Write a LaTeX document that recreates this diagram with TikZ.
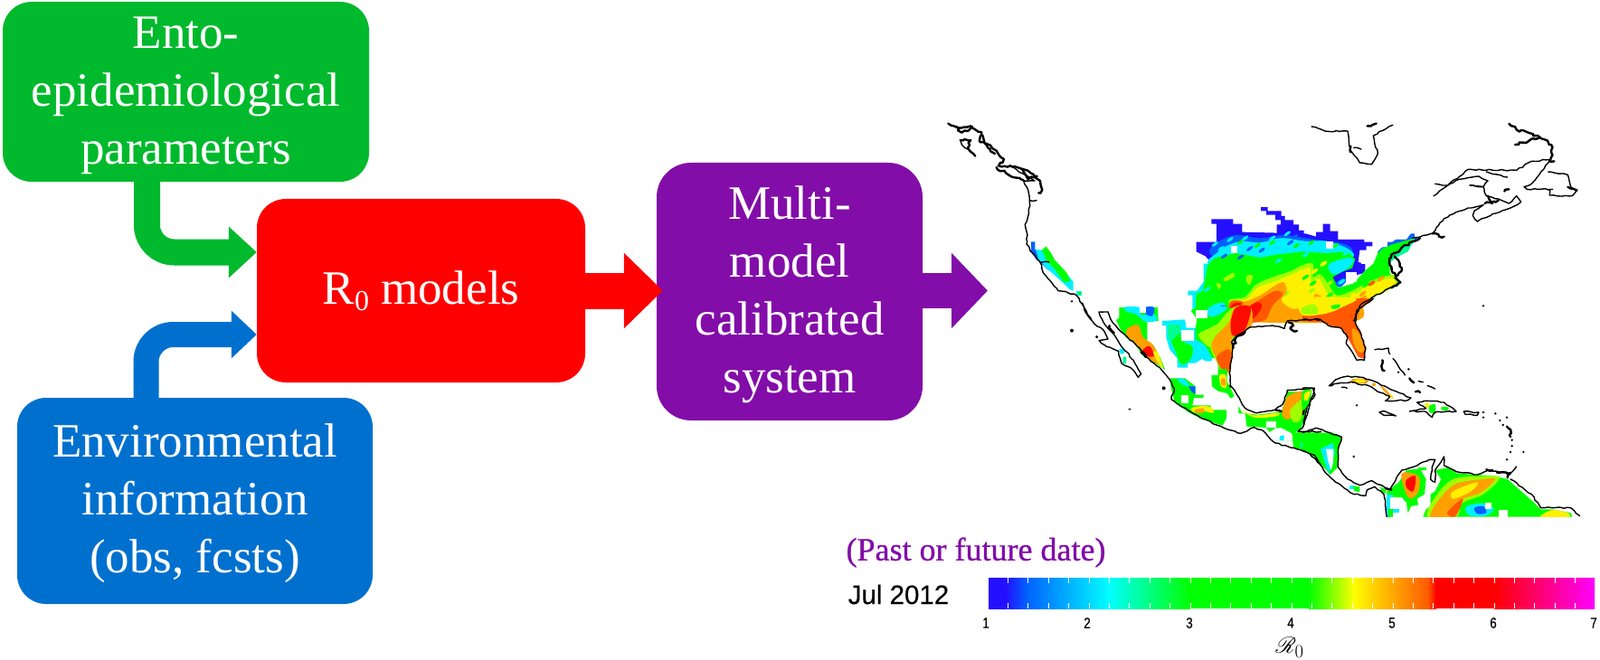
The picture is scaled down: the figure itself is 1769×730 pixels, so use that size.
\documentclass[tikz,border=0pt]{standalone}
\usepackage{fontspec}
\usepackage{mathrsfs}
\usetikzlibrary{arrows.meta,decorations.pathmorphing}
\setmainfont{Liberation Serif}
\newfontfamily\lsans[FakeBold=0.25]{Liberation Sans}
\newfontfamily\fakeb[FakeBold=0.8]{Liberation Serif}
\definecolor{cGb}{HTML}{00B92C}
\definecolor{cBb}{HTML}{0070CF}
\definecolor{cRb}{HTML}{FF0000}
\definecolor{cPb}{HTML}{820DA8}
\definecolor{mV}{HTML}{2410FF}
\definecolor{mB}{HTML}{0060FF}
\definecolor{mC}{HTML}{00F0FF}
\definecolor{mS}{HTML}{00FF90}
\definecolor{mG}{HTML}{00FF00}
\definecolor{mL}{HTML}{A0FF00}
\definecolor{mY}{HTML}{FFF000}
\definecolor{mO}{HTML}{FFA000}
\definecolor{mD}{HTML}{FF5800}
\definecolor{mR}{HTML}{FF0A00}
\tikzset{
 boxst/.style={rounded corners=32pt,inner sep=0pt,text=white,align=center,
   font=\fontsize{53}{64}\selectfont},
 zf/.style 2 args={shift={(#1,#2)},x=0.33333pt,y=-0.33333pt},
 coast/.style={draw=black,line width=1.4pt,line join=round,line cap=round,
   decorate,decoration={random steps,segment length=4pt,amplitude=0.8pt}},
 thickcoast/.style={draw=black,line width=2.4pt,line join=round,line cap=round,
   decorate,decoration={random steps,segment length=3pt,amplitude=1.6pt}},
 ticklab/.style={font=\lsans\fontsize{16.5}{16.5}\selectfont,inner sep=0pt}
}
\newcommand{\stt}{\rule{0pt}{43pt}}
\newcommand{\pg}[2]{\fill[#1] plot coordinates {#2} -- cycle;}
\newcommand{\sg}[2]{\fill[#1] plot[smooth cycle,tension=0.55] coordinates {#2};}
\newcommand{\cl}[1]{\draw[coast] plot coordinates {#1};}
\newcommand{\tc}[1]{\draw[thickcoast] plot coordinates {#1};}
\newcommand{\wb}[4]{\fill[white] (#1,#2) rectangle (#3,#4);}
\newcommand{\nar}[1]{\scalebox{0.82}[1]{#1}}
\begin{document}
\begin{tikzpicture}[x=1pt,y=-1pt]
\useasboundingbox (0,0) rectangle (1769,730);
% ---- boxes
\node[boxst,fill=cGb,minimum width=405pt,minimum height=199pt] (g) at (205.5,101.5) {\stt Ento-\\epidemiological\\parameters};
\node[boxst,fill=cBb,minimum width=393pt,minimum height=228pt] (b) at (215.5,554) {\stt Environmental\\information\\(obs, fcsts)};
\node[boxst,fill=cPb,minimum width=294pt,minimum height=285pt,rounded corners=38pt] (p) at (873,322.5) {\stt Multi-\\model\\calibrated\\system};
\node[boxst,fill=cRb,minimum width=363pt,minimum height=203pt] (r) at (465.5,321.5) {R\raisebox{-0.14em}{\fontsize{32}{32}\selectfont 0} models};
\coordinate (maptip) at (1092,321.5);
% ---- connectors
\draw[cGb,line width=29pt,rounded corners=30pt,-{Triangle[length=31pt,width=55pt]}]
  ([xshift=-43pt]g.south) |- ([yshift=42.5pt]r.west);
\draw[cBb,line width=28pt,rounded corners=30pt,-{Triangle[length=28pt,width=51pt]}]
  ([xshift=-54pt]b.north) |- ([yshift=-48.5pt]r.west);
\draw[cRb,line width=40pt,-{Triangle[length=43pt,width=81pt]}]
  (r.east) -- ([xshift=7pt]r.east -| p.west);
\draw[cPb,line width=39pt,-{Triangle[length=40pt,width=81pt]}]
  (p.east |- maptip) -- (maptip);
% ---- map: USA (frame of zoom at 1310,225)
\begin{scope}[zf={1310}{225}]
\pg{mV}{(252,12)(275,12)(275,25)(320,25)(320,42)(332,42)(332,55)(360,55)(360,70)(378,70)(378,90)(395,90)(395,115)(305,115)(305,70)(318,70)(318,55)(300,55)(300,38)(270,38)(270,25)(252,25)}
\pg{mV}{(38,128)(105,128)(105,68)(88,68)(88,52)(160,52)(160,68)(190,68)(190,95)(400,100)(435,110)(435,95)(458,95)(458,68)(482,68)(482,92)(508,92)(508,120)(595,120)(595,128)(622,128)(622,142)(602,142)(602,155)(580,155)(575,195)(598,200)(598,230)(560,240)(500,280)(200,200)(82,190)(68,175)(38,160)}
\pg{mB}{(640,160)(655,145)(672,145)(672,128)(688,128)(700,120)(735,120)(750,100)(762,100)(762,115)(775,112)(740,150)(660,200)(640,200)}
\sg{mB}{(80,160)(115,125)(170,105)(250,115)(330,105)(430,120)(530,135)(555,160)(480,170)(300,175)(130,190)}
\sg{mC}{(75,195)(105,165)(140,140)(190,125)(250,130)(320,115)(400,125)(470,125)(540,150)(560,175)(500,190)(300,200)(120,220)}
\pg{mC}{(62,200)(85,200)(85,300)(50,390)(25,355)(25,305)(10,305)(10,290)(40,290)(62,260)}
\pg{mS}{(640,165)(655,150)(700,135)(745,120)(765,112)(740,160)(700,180)(640,230)(620,250)}
\pg{mG}{(75,205)(100,180)(170,165)(250,180)(300,170)(390,160)(470,165)(540,160)(565,185)(555,215)(525,225)(490,245)(510,280)(560,265)(595,225)(625,200)(640,165)(655,150)(690,135)(740,122)(760,118)(715,150)(680,180)(680,230)(700,260)(640,300)(400,392)(100,392)(35,355)(38,300)(60,290)}
% green and blue streaks of the northern band
\foreach \a/\b/\c in {150/120/mC,185/128/mG,215/150/mB,255/165/mC,290/130/mG,340/100/mC,370/140/mG,120/150/mC,100/135/mC,240/140/mG,310/150/mC,420/130/mG,450/150/mC,500/140/mG,535/165/mC,130/175/mB,185/178/mB,255/155/mB,310/190/mC,400/170/mC,350/130/mB,290/115/mC,200/115/mC,365/110/mB,45/325/mG,75/285/mC,100/345/mB,125/345/mB,85/380/mB,110/365/mC}{
  \fill[\c,rotate around={35:(\a,\b)}] (\a,\b) ellipse (13 and 5);}
\sg{mC}{(480,200)(540,180)(560,190)(540,215)(500,235)(480,225)}
\sg{mB}{(500,265)(525,248)(535,258)(515,278)}
\sg{mC}{(90,340)(130,330)(125,365)(85,388)(60,385)}
\sg{mB}{(105,350)(128,338)(122,360)(95,378)}
\sg{mL}{(128,250)(160,230)(165,242)(135,258)}
\sg{mL}{(205,240)(225,240)(215,270)(205,260)}
\sg{mL}{(105,265)(120,270)(112,285)}
\sg{mL}{(145,325)(200,310)(235,270)(290,245)(350,225)(390,205)(425,200)(425,245)(450,235)(480,275)(505,305)(555,290)(610,260)(670,240)(700,238)(708,260)(680,285)(630,310)(580,340)(560,390)(200,390)}
\sg{mY}{(150,330)(205,318)(240,280)(295,260)(345,240)(395,218)(415,215)(418,260)(445,250)(470,295)(500,318)(555,300)(610,272)(670,250)(692,250)(698,265)(670,285)(630,305)(580,335)(555,390)(200,390)}
\foreach \a/\b/\c in {400/245/mG,425/265/mG,480/305/mG,540/310/mL,575/290/mL,335/300/mL,360/280/mY,375/255/mY,430/225/mY,460/200/mY,420/290/mL,495/330/mG,620/265/mD,650/250/mO,590/300/mO,480/265/mL,520/260/mC,440/325/mL,525/335/mY,600/270/mG}{
  \fill[\c,rotate around={35:(\a,\b)}] (\a,\b) ellipse (14 and 6);}
\sg{mO}{(150,328)(200,325)(250,305)(300,272)(328,262)(338,292)(320,322)(360,350)(420,330)(432,300)(465,320)(490,355)(540,338)(600,305)(590,335)(560,390)(200,390)}
\sg{mY}{(370,295)(405,290)(415,312)(380,328)}
\sg{mD}{(150,328)(190,325)(200,345)(250,318)(300,290)(325,302)(290,340)(260,390)(150,390)}
\sg{mD}{(400,378)(500,365)(570,350)(555,390)(410,392)}
\sg{mR}{(155,338)(185,330)(195,352)(240,328)(255,345)(215,392)(150,392)}
\wb{152}{142}{175}{165}
\wb{468}{127}{492}{150}
\wb{585}{175}{622}{200}
\wb{535}{228}{570}{262}
\wb{38}{358}{78}{380}
\end{scope}
% ---- map: west coast strip (frame at 1020,120)
\begin{scope}[zf={1020}{120}]
\pg{mB}{(360,442)(373,442)(373,468)(395,488)(405,520)(420,540)(400,520)(375,498)(360,475)}
\pg{mC}{(375,468)(400,470)(450,515)(500,575)(500,605)(488,600)(462,575)(440,555)(412,530)(385,500)}
\pg{mG}{(395,470)(410,458)(425,478)(440,505)(478,545)(490,572)(470,578)(440,535)(412,505)}
\pg{mC}{(510,606)(528,606)(528,622)(510,622)}
\pg{mG}{(515,610)(525,610)(525,618)(515,618)}
% coast
\tc{(85,50)(120,65)(160,58)(195,78)(192,112)(225,122)(245,140)(270,168)(252,190)(290,190)(320,197)(360,215)(390,240)(397,270)(385,280)}
\tc{(110,60)(130,80)(150,75)(165,60)}
\tc{(200,90)(205,115)(240,150)}
\tc{(245,195)(300,228)(335,238)}
\tc{(330,200)(350,235)(380,225)}
\cl{(290,190)(330,215)(372,240)(335,240)(350,270)(355,310)(352,350)(340,385)(348,420)(345,450)(365,480)(395,520)(400,545)(430,580)(450,605)(480,610)(510,620)(530,650)(560,700)}
\cl{(355,305)(378,305)}
\cl{(395,510)(420,510)}
\tc{(125,105)(160,105)(150,130)(175,158)}
\cl{(125,105)(130,120)(150,135)}
\fill[black] (495,737) circle (6);
\fill[black] (495,640) circle (4);
\end{scope}
% ---- map: Mexico (frame at 1200,340)
\begin{scope}[zf={1200}{340}]
% NW Mexico
\pg{mG}{(112,0)(240,0)(242,45)(205,45)(205,120)(225,125)(250,170)(265,208)(240,190)(190,160)(160,115)(135,100)(115,70)(102,42)(112,35)}
\sg{mC}{(130,0)(180,0)(185,25)(225,20)(238,42)(205,48)(150,30)}
\sg{mB}{(198,0)(228,0)(222,28)(200,22)}
\wb{180}{0}{200}{18}
\sg{mG}{(120,15)(170,25)(200,60)(150,60)}
\sg{mO}{(138,72)(175,58)(192,100)(225,125)(252,185)(235,185)(195,160)(160,112)(140,100)}
\sg{mR}{(188,145)(212,128)(228,160)(205,162)}
\sg{mY}{(225,150)(240,150)(258,200)(245,190)}
% central patch
\pg{mC}{(255,45)(330,40)(335,68)(365,68)(385,130)(395,165)(365,185)(340,185)(340,200)(305,200)(305,170)(280,140)(268,100)(268,60)(255,60)}
\sg{mG}{(275,75)(310,60)(320,110)(355,130)(350,170)(320,190)(300,150)}
\sg{mS}{(275,60)(300,60)(315,80)(280,110)}
\wb{318}{75}{360}{112}
% NE Mexico / Texas
\pg{mG}{(350,10)(370,0)(480,0)(550,45)(500,95)(485,120)(482,205)(470,218)(460,205)(440,205)(440,170)(395,165)(365,115)(365,70)(370,40)}
\sg{mC}{(360,110)(395,125)(420,175)(385,170)}
\sg{mC}{(410,0)(470,0)(440,25)(410,30)}
\sg{mL}{(375,90)(410,70)(440,60)(420,130)(395,120)}
\sg{mL}{(415,130)(430,70)(490,0)(545,0)(550,60)(490,100)(486,160)(480,215)(455,215)(430,170)}
\sg{mO}{(418,130)(432,95)(475,50)(495,0)(548,0)(550,62)(490,98)(486,160)(480,212)(458,215)(435,170)}
\sg{mR}{(482,50)(500,0)(548,0)(530,72)(490,95)}
\sg{mD}{(435,165)(478,140)(482,195)(460,215)}
\wb{367}{10}{405}{35}
% S Texas spot
\pg{mG}{(418,225)(440,225)(440,205)(470,205)(470,245)(480,265)(494,295)(482,302)(470,285)(440,278)(420,262)}
\sg{mY}{(445,225)(465,225)(468,265)(450,262)}
\sg{mO}{(450,240)(462,235)(465,258)(452,258)}
% Central-S Mexico
\pg{mG}{(300,235)(330,235)(365,262)(365,290)(392,290)(392,300)(360,300)(355,325)(415,325)(418,340)(468,340)(468,368)(455,392)(390,372)(340,347)(295,312)(285,270)(280,235)}
\sg{mC}{(305,235)(330,240)(345,262)(320,255)}
\pg{mB}{(342,262)(365,262)(365,288)(352,280)}
\wb{318}{292}{342}{318}
\sg{mY}{(350,335)(375,328)(415,330)(425,350)(395,345)(360,348)}
\sg{mO}{(362,340)(392,335)(392,350)(368,350)}
% Yucatan
\pg{mG}{(508,328)(520,350)(570,356)(650,346)(672,280)(750,280)(742,320)(716,400)(690,420)(688,442)(635,442)(600,400)(590,398)(535,395)(530,352)(508,352)}
\sg{mO}{(675,292)(742,280)(712,340)(672,372)(652,352)}
\sg{mL}{(680,340)(730,300)(715,370)(690,380)}
\sg{mY}{(520,340)(560,358)(640,350)(630,362)(560,365)}
\wb{600}{378}{632}{398}
\pg{white}{(632,400)(650,400)(688,420)(688,442)(635,442)(610,415)}
\sg{mC}{(645,428)(658,425)(658,440)(645,440)}
% C America north
\pg{mG}{(685,415)(782,415)(782,522)(740,482)(690,465)}
\sg{mC}{(715,450)(730,452)(725,465)(715,462)}
% Baja spot
\sg{mC}{(112,140)(125,138)(130,150)(118,155)}
\sg{mS}{(125,165)(135,165)(135,185)(125,185)}
% coast
\cl{(-10,-15)(0,15)(30,55)(60,75)(75,105)(45,110)(70,130)(110,145)(120,185)(150,200)(175,232)(185,220)(170,195)(140,150)(120,130)(95,90)(60,50)(45,15)(75,15)}
\cl{(75,15)(90,50)(130,90)(180,135)(210,170)(255,210)(280,240)(295,270)(285,305)(320,330)(380,365)(460,400)(515,418)(560,398)(590,410)(630,450)(680,465)(735,480)(782,522)}
\tc{(80,60)(95,85)}
\tc{(185,150)(200,165)}
\cl{(480,265)(480,210)(490,130)(485,115)(510,90)(550,65)(620,60)(660,70)(670,45)(700,45)(782,40)}
\tc{(490,135)(500,100)(530,80)}
\tc{(675,50)(690,60)(680,70)(702,78)}
\cl{(480,258)(510,300)(530,335)(570,350)(630,340)(655,320)(670,275)(755,268)(762,290)(735,330)(720,400)(705,412)(782,412)}
\tc{(630,340)(650,345)}
\tc{(730,320)(722,355)}
\fill[black] (260,268) circle (6);
\fill[black] (147,338) ellipse (5 and 3);
\fill[black] (38,98) circle (5);
\end{scope}
% ---- map: Caribbean (frame at 1440,330)
\begin{scope}[zf={1440}{330}]
% Florida
\pg{mD}{(0,0)(238,0)(180,40)(175,80)(195,120)(210,165)(205,200)(185,195)(150,130)(130,100)(85,88)(60,70)(0,70)}
\sg{mY}{(0,0)(175,0)(130,30)(80,50)(0,55)}
\sg{mG}{(95,25)(125,20)(120,32)(100,35)}
\sg{mL}{(0,30)(40,20)(50,50)(0,50)}
\sg{mO}{(165,100)(190,120)(205,170)(190,180)(170,150)}
% Cuba and Hispaniola
\sg{mO}{(165,268)(215,268)(212,282)(165,280)}
\sg{mY}{(175,270)(205,270)(205,278)(178,278)}
\sg{mO}{(258,292)(272,298)(302,332)(285,322)}
\sg{mY}{(290,318)(300,325)(298,332)(288,328)}
\sg{mO}{(232,282)(242,282)(242,290)(232,290)}
\sg{mY}{(405,350)(420,350)(415,365)}
\sg{mG}{(420,358)(440,352)(440,378)(422,378)}
\sg{mG}{(462,360)(485,362)(480,372)(462,370)}
% Central America
\pg{mG}{(0,450)(100,445)(130,460)(118,510)(118,560)(92,585)(70,560)(40,520)(0,505)}
\pg{mC}{(60,500)(100,480)(108,510)(95,560)(85,580)(70,530)}
\pg{white}{(78,500)(102,500)(102,545)(95,570)(85,540)}
\sg{mG}{(0,310)(30,305)(20,350)(0,370)}
\sg{mY}{(8,315)(28,308)(15,340)(5,335)}
\pg{mC}{(155,622)(170,622)(170,632)(155,632)}
\pg{mG}{(168,622)(190,625)(190,642)(172,640)}
\pg{mG}{(258,625)(278,635)(275,648)(262,640)}
% Colombia
\pg{mG}{(320,610)(345,570)(390,565)(410,600)(405,650)(380,665)(385,685)(360,690)(350,712)(345,680)(330,660)(300,660)(280,655)(280,640)}
\sg{mO}{(330,580)(385,590)(385,640)(360,665)(340,640)}
\sg{mR}{(345,602)(375,590)(368,640)(345,628)}
\pg{mC}{(278,650)(300,650)(300,725)(278,725)}
\pg{mG}{(285,700)(300,700)(300,725)(285,725)}
\wb{300}{675}{345}{700}
\wb{290}{660}{312}{700}
\pg{mC}{(300,700)(322,700)(322,712)(300,712)}
\pg{mG}{(385,560)(412,560)(412,570)(385,570)}
% Venezuela, Guyana
\pg{mG}{(440,570)(490,560)(510,580)(640,590)(680,600)(760,670)(790,700)(830,700)(890,712)(895,725)(400,725)(410,700)(425,690)(425,650)(440,640)(460,600)}
\sg{mL}{(440,660)(500,600)(600,590)(655,595)(600,650)(530,680)(510,725)(415,725)}
\sg{mO}{(455,665)(510,615)(600,600)(640,600)(590,645)(525,670)(500,725)(425,725)}
\sg{mY}{(500,640)(580,610)(560,640)(500,665)}
\sg{mD}{(480,710)(530,665)(525,690)(505,725)}
\sg{mC}{(545,690)(600,680)(635,700)(605,722)(550,718)}
\sg{mB}{(570,695)(600,690)(610,712)(580,715)}
\wb{605}{678}{628}{698}
\wb{652}{702}{680}{726}
\sg{mY}{(795,718)(830,702)(880,712)(880,726)(795,726)}
\fill[white] (270,725.5) rectangle (930,745);
% coast
\cl{(0,70)(60,70)(85,90)(130,100)(150,130)(145,150)(180,205)(205,205)(210,165)(195,120)(175,80)(180,40)(235,0)}
\cl{(88,290)(110,270)(150,258)(200,262)(250,280)(300,305)(360,330)(350,338)(275,340)(290,325)(250,310)(220,290)(160,278)(130,280)(88,290)}
\cl{(130,295)(148,298)}
\cl{(240,170)(285,165)(290,185)}
\tc{(265,205)(262,225)(272,240)}
\cl{(300,200)(340,255)}
\tc{(355,265)(370,280)}
\cl{(385,275)(400,278)}
\cl{(415,290)(440,300)}
\tc{(375,310)(390,312)}
\cl{(380,345)(410,340)(470,345)(510,375)(440,378)(430,395)(405,375)(355,375)(410,365)(380,345)}
\cl{(255,378)(275,375)(310,390)(270,388)(255,378)}
\cl{(535,375)(585,378)(580,388)(540,385)(535,375)}
\foreach \px/\py in {180/355,600/25,600/378,600/395,640/382,655/405,678/395,665/420,695/470,695/490,690/510,733/510,678/535,170/525,318/245,352/235}{\fill[black] (\px,\py) circle (4);}
\tc{(678,425)(690,435)(690,460)}
\cl{(0,445)(45,430)(130,460)(118,510)(118,560)(150,600)(190,620)(230,605)(270,625)(290,635)(330,570)(380,555)(420,535)(440,535)(430,560)(425,600)(440,610)(440,570)(470,525)(470,555)(510,575)(580,585)(620,570)(690,580)(710,558)}
\tc{(610,568)(630,570)}
\tc{(645,578)(690,580)(680,595)}
\cl{(690,600)(760,650)(790,695)(830,695)(890,695)(920,722)}
\cl{(0,505)(40,520)(70,570)(110,610)(170,650)(210,655)(215,635)(240,625)(270,650)(280,725)}
\tc{(275,630)(295,635)}
\cl{(0,298)(40,298)(25,350)(5,420)}
\end{scope}
% ---- map: NE Canada (frame at 1450,110)
\begin{scope}[zf={1450}{110}]
\cl{(0,90)(45,105)(120,105)(130,170)(160,210)(200,215)(220,180)(205,120)(270,85)}
\tc{(130,155)(130,175)}
\tc{(185,88)(215,80)}
\cl{(140,160)(165,165)}
\cl{(335,460)(400,445)(420,420)(440,395)(470,380)(520,360)(570,350)}
\cl{(570,350)(540,370)(535,385)(550,405)(600,380)(660,360)(695,340)(680,320)(655,345)(620,330)(580,320)(570,290)(525,285)}
\tc{(575,345)(620,335)}
\tc{(585,320)(600,345)}
\cl{(525,285)(570,290)(585,270)(555,255)(490,265)(445,290)(405,320)}
\cl{(410,280)(450,285)}
\cl{(445,290)(520,232)(680,235)(730,205)(790,200)(755,250)(730,280)(705,290)(715,298)(800,298)}
\cl{(785,240)(850,250)(860,290)(880,300)(865,320)(790,318)(790,298)}
\tc{(850,290)(880,300)}
\tc{(655,80)(680,100)(750,120)(795,150)(800,185)(790,205)(805,205)}
\tc{(675,150)(755,128)}
\cl{(580,240)(650,258)}
\tc{(640,305)(655,298)}
\tc{(400,445)(440,455)}
\end{scope}
% ---- east coast (frame at 1440,225)
\begin{scope}[zf={1440}{225}]
\cl{(170,390)(190,340)(235,310)(290,280)(325,262)}
\tc{(295,280)(325,262)(300,230)(290,205)(295,170)(320,160)(355,130)(390,115)}
\tc{(305,175)(330,215)(315,240)}
\fill[black] (295,215) circle (5);
\end{scope}
% ---- colour bar
\shade[left color=mV,right color=mV] (1093,639) rectangle (1113,673);
\shade[left color=mV,right color=mB] (1112,639) rectangle (1135,673);
\shade[left color=mB,right color=cyan] (1134,639) rectangle (1227,673);
\shade[left color=cyan,right color=green] (1226,639) rectangle (1316,673);
\fill[green] (1315,639) rectangle (1448,673);
\shade[left color=green,right color=yellow] (1447,639) rectangle (1497,673);
\shade[left color=yellow,middle color=orange,right color=mD] (1496,639) rectangle (1580,673);
\shade[left color=mD,right color=red] (1579,639) rectangle (1588,673);
\fill[red] (1587,639) rectangle (1653,673);
\shade[left color=red,right color=magenta] (1652,639) rectangle (1763,673);
\foreach \k in {0,...,28}{
  \draw[white,line width=1pt] ({1114.5+22.4*\k},639) -- ++(0,6);
  \draw[white,line width=1pt] ({1114.5+22.4*\k},667) -- ++(0,6);
}
\node[ticklab] (t1) at (1090,689) {\nar{1}};
\node[ticklab] (t2) at (1202,689) {\nar{2}};
\node[ticklab] (t3) at (1315,689) {\nar{3}};
\node[ticklab] (t4) at (1427,689) {\nar{4}};
\node[ticklab] (t5) at (1539,689) {\nar{5}};
\node[ticklab] (t6) at (1651,689) {\nar{6}};
\node[ticklab] (t7) at (1762,689) {\nar{7}};
\node[inner sep=0pt,font=\fontsize{32}{32}\selectfont] (rlab) at (1426,716) {$\mathscr{R}_0$};
\node[inner sep=0pt,font=\lsans\fontsize{29.5}{30}\selectfont] (date) at (993.5,657.5) {Jul 2012};
\node[inner sep=0pt,text=cPb,font=\fakeb\fontsize{36}{36}\selectfont] (past) at (1079,611) {(Past or future date)};
\end{tikzpicture}
\end{document}
